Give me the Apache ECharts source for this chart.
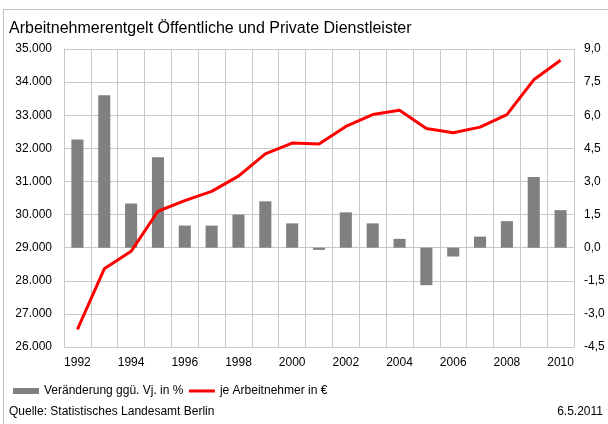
<!DOCTYPE html>
<html>
<head>
<meta charset="utf-8">
<script src="https://cdn.jsdelivr.net/npm/echarts@6/dist/echarts.min.js"></script>
<style>
  html, body { margin: 0; padding: 0; background: #fff; }
  #chart { width: 608px; height: 424px; }
</style>
</head>
<body>
<div id="chart"></div>
<script>
// Jahre (x-Achse)
const years = ['1992','1993','1994','1995','1996','1997','1998','1999','2000','2001',
               '2002','2003','2004','2005','2006','2007','2008','2009','2010'];
// Veränderung gegenüber Vorjahr in %
const changePct = [4.9, 6.9, 2.0, 4.1, 1.0, 1.0, 1.5, 2.1, 1.1, -0.1,
                   1.6, 1.1, 0.4, -1.7, -0.4, 0.5, 1.2, 3.2, 1.7];
// Arbeitnehmerentgelt je Arbeitnehmer in €
const perEmployee = [26530, 28360, 28890, 30100, 30420, 30700, 31160, 31830, 32160, 32130,
                     32660, 33020, 33150, 32600, 32470, 32640, 33020, 34070, 34660];

const FONT = '"Liberation Sans", Arial, sans-serif';
const GRID = '#c8c8c8';

const fmtEuro = v => v.toLocaleString('de-DE', { minimumFractionDigits: 0, maximumFractionDigits: 0 });
const fmtPct = v => v.toFixed(1).replace('.', ',');

const chart = echarts.init(document.getElementById('chart'), null, { renderer: 'canvas' });

chart.setOption({
  animation: false,
  backgroundColor: '#fff',
  textStyle: { fontFamily: FONT },
  title: {
    text: 'Arbeitnehmerentgelt Öffentliche und Private Dienstleister',
    left: 4, top: 16,
    textStyle: { fontFamily: FONT, fontSize: 16, fontWeight: 'normal', color: '#000' }
  },
  grid: { left: 64, right: 34, top: 49, bottom: 77 },
  legend: {
    left: 8, top: 380,
    itemWidth: 26, itemHeight: 6, itemGap: 4,
    textStyle: { fontFamily: FONT, fontSize: 12, color: '#000' },
    data: [
      { name: 'Veränderung ggü. Vj. in %', icon: 'rect' },
      { name: 'je Arbeitnehmer in €', itemStyle: { opacity: 0 }, lineStyle: { width: 3, color: '#ff0000' } }
    ]
  },
  xAxis: {
    type: 'category',
    data: years,
    boundaryGap: true,
    axisLine: { show: true, lineStyle: { color: GRID, width: 1 } },
    axisTick: { show: false },
    axisLabel: { interval: 1, color: '#000', fontSize: 12, fontFamily: FONT, margin: 10 },
    splitLine: { show: true, interval: 0, lineStyle: { color: GRID, width: 1 } }
  },
  yAxis: [
    {
      type: 'value',
      min: 26000, max: 35000, interval: 1000,
      position: 'left',
      axisLine: { show: true, lineStyle: { color: GRID } },
      axisTick: { show: false },
      axisLabel: { color: '#000', fontSize: 12, fontFamily: FONT, margin: 12, formatter: fmtEuro },
      splitLine: { show: true, lineStyle: { color: GRID, width: 1 } }
    },
    {
      type: 'value',
      min: -4.5, max: 9, interval: 1.5,
      position: 'right',
      axisLine: { show: false },
      axisTick: { show: false },
      axisLabel: { color: '#000', fontSize: 12, fontFamily: FONT, margin: 10, formatter: fmtPct },
      splitLine: { show: false }
    }
  ],
  series: [
    {
      name: 'Veränderung ggü. Vj. in %',
      type: 'bar',
      yAxisIndex: 1,
      data: changePct,
      barWidth: '45%',
      itemStyle: { color: '#808080' },
      z: 2
    },
    {
      name: 'je Arbeitnehmer in €',
      type: 'line',
      yAxisIndex: 0,
      data: perEmployee,
      symbol: 'none',
      lineStyle: { color: '#ff0000', width: 3 },
      itemStyle: { color: '#ff0000' },
      z: 3
    }
  ],
  graphic: [
    {
      type: 'rect', silent: true,
      shape: { x: 3.5, y: 9.5, width: 700, height: 500 },
      style: { fill: 'none', stroke: '#c0c0c0', lineWidth: 1 }
    },
    {
      type: 'text', left: 9, top: 406,
      style: { text: 'Quelle: Statistisches Landesamt Berlin', font: '12px ' + FONT, fill: '#000' }
    },
    {
      type: 'text', right: 5, top: 406,
      style: { text: '6.5.2011', font: '12px ' + FONT, fill: '#000' }
    }
  ]
});
</script>
</body>
</html>
